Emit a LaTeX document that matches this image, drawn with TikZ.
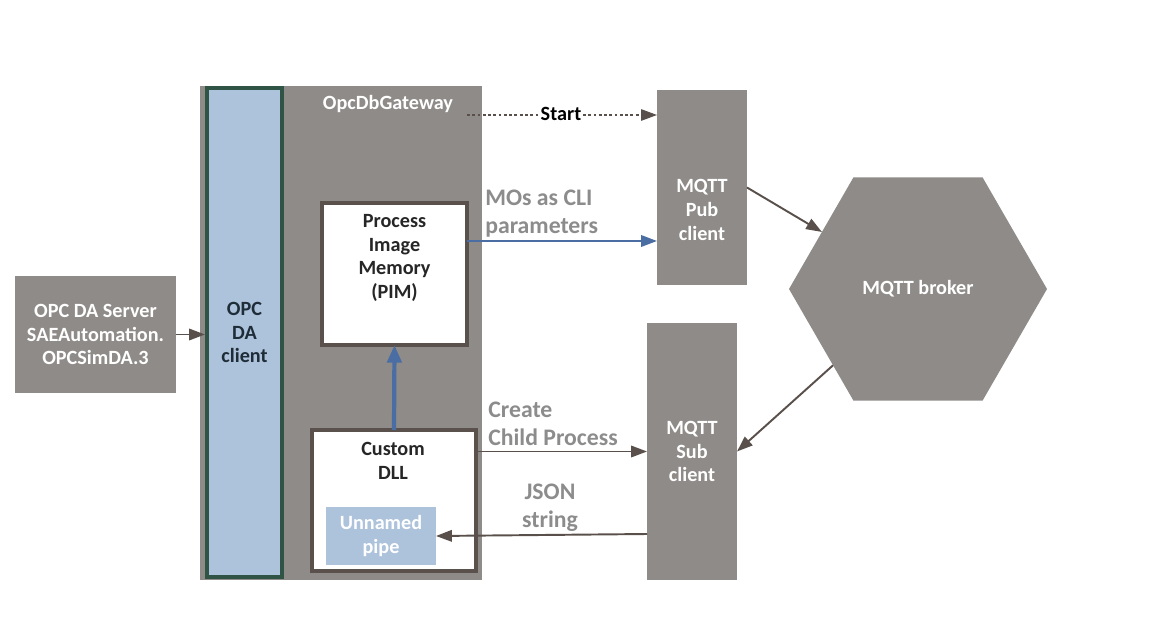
\documentclass[tikz,border=0pt]{standalone}
\usepackage{fontspec}
\setmainfont{Carlito}
\usetikzlibrary{arrows.meta,shapes.geometric}
\definecolor{boxgray}{RGB}{143,139,136}
\definecolor{paleblue}{RGB}{173,194,219}
\definecolor{clientgreen}{RGB}{47,84,70}
\definecolor{framebrown}{RGB}{91,81,76}
\definecolor{arrowbrown}{RGB}{90,80,75}
\definecolor{arrowblue}{RGB}{74,109,163}
\definecolor{labelgray}{RGB}{140,140,140}

\begin{document}
\begin{tikzpicture}[
    graybox/.style = {fill=boxgray, draw=none, inner sep=0pt, outer sep=0pt},
    whitebox/.style = {fill=white, draw=framebrown, line width=1.8pt, inner sep=0pt, outer sep=0pt},
    boxtext/.style = {align=center, inner sep=0pt, font=\bfseries\fontsize{11.5}{13.6}\selectfont},
    edgetext/.style = {align=left, inner sep=0pt, text=labelgray, font=\bfseries\fontsize{13.5}{16}\selectfont},
    flow/.style = {color=arrowbrown, line width=1.1pt, -{Triangle[length=9pt,width=6.5pt]}},
  ]
  \useasboundingbox (0,0) rectangle (23.22,12.64);

  % gateway and its parts
  \node[graybox, minimum width=5.64cm, minimum height=9.88cm] (gateway) at (6.82, 5.98) {};
  \node[boxtext, text=white] (gatewaytext) at (7.76, 10.56) {OpcDbGateway};
  \node[fill=paleblue, draw=clientgreen, line width=2.3pt, inner sep=0pt, minimum width=1.5cm,
        minimum height=9.78cm, boxtext, text={rgb,255:red,31;green,45;blue,56}] (client) at (4.89, 5.99) {OPC\\DA\\client};
  \node[whitebox, minimum width=2.9cm, minimum height=2.84cm] (pim) at (7.89, 7.16) {};
  \node[boxtext, text=black!85] (pimtext) at (7.89, 7.48) {Process\\Image\\Memory\\(PIM)};
  \node[whitebox, minimum width=3.28cm, minimum height=2.82cm] (dll) at (7.88, 2.63) {};
  \node[boxtext, text=black!85] (dlltext) at (7.86, 3.42) {Custom\\DLL};
  \node[fill=paleblue, inner sep=0pt, outer sep=0pt, minimum width=2.2cm, minimum height=1.16cm,
        boxtext, text=white] (pipe) at (7.62, 1.92) {Unnamed\\pipe};

  % outside boxes
  \node[graybox, minimum width=3.22cm, minimum height=2.34cm, boxtext, text=white] (server) at (1.91, 5.95)
    {OPC DA Server\\SAEAutomation.\\OPCSimDA.3};
  \node[graybox, minimum width=1.8cm, minimum height=3.9cm] (pub) at (14.04, 8.89) {};
  \node[boxtext, text=white] (pubtext) at (14.04, 8.44) {MQTT\\Pub\\client};
  \node[graybox, minimum width=1.8cm, minimum height=5.14cm, boxtext, text=white] (sub) at (13.84, 3.61)
    {MQTT\\Sub\\client};
  \node[regular polygon, regular polygon sides=6, minimum size=5.16cm, graybox, boxtext, text=white] (broker)
    at (18.36, 6.86) {MQTT broker};

  % connectors
  \coordinate (startfrom) at (9.34, 10.34);
  \draw[flow, line width=0.6pt, dash pattern=on 1.6pt off 1.4pt] (startfrom) -- (pub.west |- startfrom);
  \node[fill=white, inner sep=2pt, boxtext] (starttext) at (11.22, 10.36) {Start};

  \draw[flow, color=arrowblue] ([yshift=0.66cm]pim.east) -- ([yshift=0.66cm]pim.east -| pub.west);
  \node[edgetext, anchor=west] (mostext) at (9.7, 8.36) {MOs as CLI\\parameters};

  \draw[flow, color=arrowblue, line width=2.4pt, -{Triangle[length=10pt,width=8pt]}] (dll.north) -- (pim.south);

  \draw[flow] (dll.east |- sub.west) -- (sub.west);
  \node[edgetext, anchor=west] (createtext) at (9.76, 4.17) {Create\\Child Process};

  \draw[flow] ([yshift=-1.65cm]sub.west) -- (pipe.east);
  \node[edgetext, align=center] (jsontext) at (11.0, 2.48) {JSON\\string};

  \draw[flow] (server.east) -- (server.east -| client.west);
  \draw[flow] (pub.east) -- (broker);
  \draw[flow] (broker) -- (sub.east);
\end{tikzpicture}
\end{document}
